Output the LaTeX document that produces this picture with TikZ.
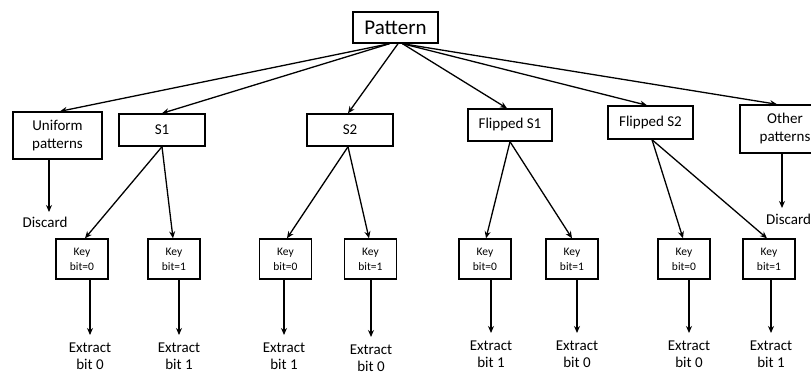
\documentclass[tikz,border=0pt]{standalone}
\usepackage{fontspec}
\setmainfont{Carlito}
\usetikzlibrary{arrows.meta}
\begin{document}
\begin{tikzpicture}[x=1pt,y=-1pt,
  box/.style={draw, line width=1.4pt, inner sep=0pt, align=center},
  mid/.style={font=\fontsize{15}{18}\selectfont},
  keyb/.style={box, minimum width=52pt, minimum height=40pt, font=\fontsize{11.5}{15}\selectfont},
  lbl/.style={inner sep=0pt, align=center, font=\fontsize{15}{17}\selectfont},
  arr/.style={-{Stealth[length=7pt,width=6pt]}, line width=1.3pt}]
\useasboundingbox (0,0) rectangle (811,374);
\clip (0,0) rectangle (811,374);
% top
\node[box, minimum width=85pt, minimum height=31pt, font=\fontsize{21}{24}\selectfont] (pat) at (395.5,27.5) {Pattern};
% second level
\node[box, mid, minimum width=89pt, minimum height=47pt] (uni) at (57.5,135.5) {Uniform\\patterns};
\node[box, mid, minimum width=86pt, minimum height=32pt] (s1) at (162,130) {S1};
\node[box, mid, minimum width=86pt, minimum height=32pt] (s2) at (350,130) {S2};
\node[box, mid, minimum width=84pt, minimum height=32pt] (fs1) at (510,125) {Flipped S1};
\node[box, mid, minimum width=85pt, minimum height=33pt] (fs2) at (650.5,122.5) {Flipped S2};
\node[box, mid, minimum width=90pt, minimum height=48pt] (oth) at (785,129) {Other\\patterns};
% discard labels
\node[lbl, anchor=north] (d1) at (45,217) {Discard};
\node[lbl, anchor=north west] (d2) at (766,214) {Discard};
% key boxes
\node[keyb] (k1) at (82,259) {Key\\bit=0};
\node[keyb] (k2) at (174,259) {Key\\bit=1};
\node[keyb] (k3) at (285.5,259) {Key\\bit=0};
\node[keyb] (k4) at (370.5,259) {Key\\bit=1};
\node[keyb] (k5) at (485,259) {Key\\bit=0};
\node[keyb] (k6) at (572,259) {Key\\bit=1};
\node[keyb] (k7) at (684,259) {Key\\bit=0};
\node[keyb] (k8) at (769,259) {Key\\bit=1};
% extract labels
\node[lbl, anchor=north] (e1) at (90,343) {Extract\\bit 0};
\node[lbl, anchor=north] (e2) at (179,343) {Extract\\bit 1};
\node[lbl, anchor=north] (e3) at (284,343) {Extract\\bit 1};
\node[lbl, anchor=north] (e4) at (371,345) {Extract\\bit 0};
\node[lbl, anchor=north] (e5) at (491,341) {Extract\\bit 1};
\node[lbl, anchor=north] (e6) at (577,341) {Extract\\bit 0};
\node[lbl, anchor=north] (e7) at (689,341) {Extract\\bit 0};
\node[lbl, anchor=north] (e8) at (771,341) {Extract\\bit 1};
% arrows from Pattern
\draw[arr] ([xshift=-6pt]pat.south) -- ([xshift=2.5pt]uni.north);
\draw[arr] ([xshift=-6pt]pat.south) -- (s1.north);
\draw[arr] ([xshift=2.5pt]pat.south) -- ([xshift=-2pt]s2.north);
\draw[arr] ([xshift=7pt]pat.south) -- ([xshift=-3pt]fs1.north);
\draw[arr] ([xshift=7pt]pat.south) -- ([xshift=-3.5pt]fs2.north);
\draw[arr] ([xshift=7pt]pat.south) -- ([xshift=-8pt]oth.north);
% discard arrows
\draw[arr, shorten >=5pt] ([xshift=-8.5pt]uni.south) -- ([xshift=-8.5pt]uni.south |- d1.north);
\draw[arr, shorten >=6pt] ([xshift=-3pt]oth.south) -- ([xshift=-3pt]oth.south |- d2.north);
% to key boxes
\draw[arr] (s1.south) -- ([xshift=3pt]k1.north);
\draw[arr] (s1.south) -- ([xshift=-1pt]k2.north);
\draw[arr] ([xshift=-2pt]s2.south) -- ([xshift=1.5pt]k3.north);
\draw[arr] ([xshift=-2pt]s2.south) -- ([xshift=-1.5pt]k4.north);
\draw[arr] (fs1.south) -- ([xshift=1pt]k5.north);
\draw[arr] (fs1.south) -- (k6.north);
\draw[arr] ([xshift=1.5pt]fs2.south) -- ([xshift=-1pt]k7.north);
\draw[arr] ([xshift=1.5pt]fs2.south) -- ([xshift=-2pt]k8.north);
% to extract labels
\draw[arr, shorten >=8pt] (k1.south -| e1.north) -- (e1.north);
\draw[arr, shorten >=8pt] (k2.south -| e2.north) -- (e2.north);
\draw[arr, shorten >=8pt] (k3.south -| e3.north) -- (e3.north);
\draw[arr, shorten >=8pt] (k4.south -| e4.north) -- (e4.north);
\draw[arr, shorten >=8pt] (k5.south -| e5.north) -- (e5.north);
\draw[arr, shorten >=8pt] (k6.south -| e6.north) -- (e6.north);
\draw[arr, shorten >=8pt] (k7.south -| e7.north) -- (e7.north);
\draw[arr, shorten >=8pt] (k8.south -| e8.north) -- (e8.north);
\end{tikzpicture}
\end{document}
